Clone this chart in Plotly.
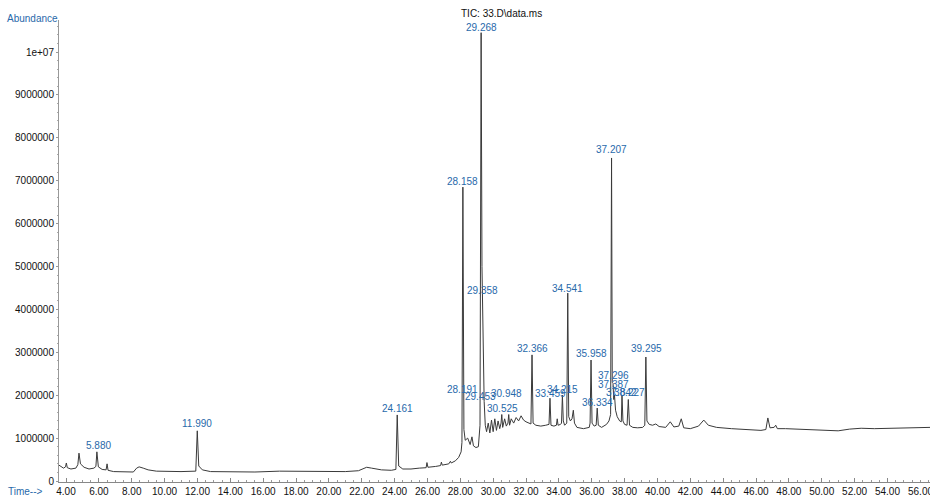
import plotly.graph_objects as go

# ---------------- data (abundance in millions) ----------------
time_a = [3.57, 3.7, 3.85, 3.97, 4.02, 4.08, 4.3, 4.6, 4.72, 4.79, 4.88, 5.1, 5.4, 5.7, 5.82, 5.88, 5.97,
          6.2, 6.44, 6.5, 6.56, 6.9, 7.5, 8.1, 8.3, 8.45, 8.7, 9.0, 9.5, 10.2, 11.0, 11.9, 11.99, 12.08,
          12.3, 12.8, 14.0, 15.5, 17.0, 18.5, 19.5, 21.0, 21.8, 22.3, 22.6, 23.2, 23.8, 24.08, 24.161,
          24.25, 24.5, 25.0, 25.5, 25.92, 25.97, 26.03, 26.5, 26.8, 26.85, 26.9, 27.3, 27.4, 27.45, 27.7, 27.9]
abund_a = [0.37, 0.33, 0.30, 0.33, 0.42, 0.31, 0.28, 0.30, 0.38, 0.65, 0.40, 0.32, 0.28, 0.30, 0.34, 0.68, 0.33,
           0.27, 0.26, 0.40, 0.25, 0.22, 0.21, 0.21, 0.30, 0.33, 0.30, 0.26, 0.23, 0.22, 0.22, 0.23, 1.17, 0.35,
           0.26, 0.22, 0.21, 0.21, 0.23, 0.22, 0.23, 0.22, 0.24, 0.32, 0.30, 0.26, 0.25, 0.27, 1.54,
           0.35, 0.28, 0.28, 0.30, 0.31, 0.43, 0.32, 0.34, 0.36, 0.44, 0.37, 0.40, 0.46, 0.42, 0.47, 0.55]

time_b = [28.05, 28.1, 28.158, 28.22, 28.3, 28.45, 28.6, 28.71, 28.8, 28.95, 29.1, 29.2, 29.268, 29.32,
          29.358, 29.4, 29.453, 29.52, 29.6, 29.7, 29.8, 29.9, 30.0, 30.1, 30.2, 30.3, 30.4, 30.48, 30.525,
          30.58, 30.7, 30.8, 30.9, 30.948, 31.0, 31.1, 31.25, 31.4, 31.55, 31.7, 31.85, 32.0, 32.2]
abund_b = [0.68, 0.90, 6.85, 1.20, 0.95, 1.00, 0.85, 1.03, 0.82, 0.78, 0.80, 1.30, 10.45, 5.00,
           4.15, 2.40, 1.85, 1.30, 1.15, 1.35, 1.12, 1.42, 1.15, 1.45, 1.18, 1.40, 1.22, 1.35, 1.55,
           1.25, 1.45, 1.28, 1.35, 1.55, 1.30, 1.45, 1.35, 1.48, 1.40, 1.52, 1.42, 1.38, 1.35]

time_c = [32.3, 32.366, 32.43, 32.6, 32.9, 33.2, 33.4, 33.459, 33.52, 33.7, 33.85, 33.9, 33.95, 34.1,
          34.16, 34.215, 34.27, 34.35, 34.48, 34.541, 34.6, 34.7, 34.8, 34.88, 34.95, 35.1, 35.5, 35.85,
          35.9, 35.958, 36.02, 36.15, 36.27, 36.334, 36.4, 36.6, 36.9, 37.05, 37.15, 37.207, 37.25,
          37.296, 37.34, 37.387, 37.45, 37.55, 37.7, 37.8, 37.842, 37.9, 38.0, 38.15, 38.227, 38.3]
abund_c = [1.33, 2.94, 1.35, 1.30, 1.28, 1.30, 1.32, 1.93, 1.30, 1.28, 1.30, 1.45, 1.30, 1.32,
           1.35, 2.00, 1.40, 1.30, 1.35, 4.38, 1.50, 1.40, 1.45, 1.65, 1.35, 1.25, 1.22, 1.25,
           1.35, 2.82, 1.35, 1.28, 1.30, 1.70, 1.30, 1.25, 1.32, 1.40, 1.55, 7.53, 2.30,
           2.28, 1.90, 2.00, 1.65, 1.50, 1.40, 1.38, 2.00, 1.40, 1.32, 1.30, 1.90, 1.30]

time_d = [38.5, 38.8, 39.1, 39.23, 39.295, 39.36, 39.5, 39.7, 39.9, 40.1, 40.5, 40.78, 41.0, 41.3, 41.45,
          41.6, 42.0, 42.5, 42.82, 43.1, 43.6, 44.5, 45.5, 46.3, 46.6, 46.72, 46.85, 47.1, 47.2, 47.3,
          47.8, 48.5, 49.5, 50.5, 51.0, 51.7, 52.4, 53.2, 54.0, 54.8, 55.6, 56.59]
abund_d = [1.25, 1.24, 1.25, 1.30, 2.89, 1.40, 1.32, 1.30, 1.33, 1.27, 1.25, 1.38, 1.26, 1.28, 1.45,
           1.24, 1.22, 1.28, 1.42, 1.30, 1.25, 1.22, 1.20, 1.18, 1.20, 1.47, 1.24, 1.25, 1.30, 1.22,
           1.22, 1.21, 1.20, 1.19, 1.17, 1.21, 1.23, 1.22, 1.23, 1.24, 1.24, 1.25]

# peak labels: text, label position (minutes), label height (millions)
peak_labels = ["5.880", "11.990", "24.161", "28.158", "28.191", "29.268", "29.358", "29.453",
               "30.525", "30.948", "32.366", "33.459", "34.215", "34.541", "35.958", "36.334",
               "37.207", "37.296", "37.387", "37.842", "38.227", "39.295"]
label_time = [5.98, 12.00, 24.18, 28.16, 28.16, 29.29, 29.38, 29.20,
              30.54, 30.81, 32.39, 33.46, 34.25, 34.55, 35.98, 36.38,
              37.23, 37.32, 37.32, 37.84, 38.30, 39.33]
label_abund = [0.82, 1.33, 1.68, 6.97, 2.14, 10.56, 4.45, 1.96,
               1.70, 2.05, 3.10, 2.05, 2.14, 4.48, 2.98, 1.82,
               7.72, 2.45, 2.24, 2.07, 2.07, 3.08]

y_tick_values = [0, 1, 2, 3, 4, 5, 6, 7, 8, 9, 10]
y_tick_labels = ["0", "1000000", "2000000", "3000000", "4000000", "5000000",
                 "6000000", "7000000", "8000000", "9000000", "1e+07"]
x_tick_values = list(range(4, 58, 2))
x_tick_labels = [f"{v:.2f}" for v in x_tick_values]

# ---------------- figure ----------------
M = 1e6
times = time_a + time_b + time_c + time_d
abund = [v * M for v in abund_a + abund_b + abund_c + abund_d]

FONT = "Liberation Sans, Arial, sans-serif"
BLUE = "rgb(40,105,170)"

fig = go.Figure()
fig.add_trace(go.Scatter(x=times, y=abund, mode="lines",
                         line=dict(color="#3a3a3a", width=1), hoverinfo="skip",
                         showlegend=False))

for txt, t, a in zip(peak_labels, label_time, label_abund):
    fig.add_annotation(x=t, y=a * M, text=txt, showarrow=False,
                       xanchor="center", yanchor="middle",
                       font=dict(family=FONT, size=10, color=BLUE))

fig.add_annotation(xref="paper", yref="paper", x=-0.0304, y=1.004, text="Abundance",
                   showarrow=False, xanchor="center", yanchor="middle",
                   font=dict(family=FONT, size=10, color=BLUE))
fig.add_annotation(xref="paper", yref="paper", x=-0.039, y=-0.0195, text="Time-->",
                   showarrow=False, xanchor="center", yanchor="middle",
                   font=dict(family=FONT, size=10, color=BLUE))
fig.add_annotation(xref="paper", yref="paper", x=0.5075, y=1.015, text="TIC: 33.D\\data.ms",
                   showarrow=False, xanchor="center", yanchor="middle",
                   font=dict(family=FONT, size=10, color="#111111"))
# last x tick label, cut by the right edge as in the original
last_tick = x_tick_values[-1]
fig.add_annotation(x=last_tick, xref="x", yref="paper", y=-0.0195, text=x_tick_labels[-1],
                   showarrow=False, xanchor="center", yanchor="middle",
                   font=dict(family=FONT, size=10, color="#111111"))

fig.update_layout(
    width=930, height=497,
    margin=dict(l=59, r=0, t=20, b=15, autoexpand=False),
    paper_bgcolor="white", plot_bgcolor="white",
    font=dict(family=FONT, size=10, color="#111111"),
    xaxis=dict(range=[3.574, 56.59], showgrid=False, zeroline=False,
               showline=True, linecolor="#888888", linewidth=1,
               tickmode="array", tickvals=x_tick_values[:-1], ticktext=x_tick_labels[:-1],
               ticks="inside", ticklen=4, tickcolor="#888888",
               tickfont=dict(family=FONT, size=10, color="#111111"),
               minor=dict(dtick=0.5, ticks="inside", ticklen=2, tickcolor="#999999")),
    yaxis=dict(range=[-0.023 * M, 10.746 * M], showgrid=False, zeroline=False,
               showline=True, linecolor="#999999", linewidth=1,
               tickmode="array", tickvals=[v * M for v in y_tick_values], ticktext=y_tick_labels,
               ticks="outside", ticklen=2, tickcolor="#999999",
               tickfont=dict(family=FONT, size=10, color="#111111"),
               minor=dict(dtick=0.2 * M, ticks="outside", ticklen=1, tickcolor="#aaaaaa")),
)

fig.write_html("out.html", config={"displayModeBar": False, "staticPlot": True},
               post_script="document.body.style.margin='0';document.body.style.overflow='hidden';")
